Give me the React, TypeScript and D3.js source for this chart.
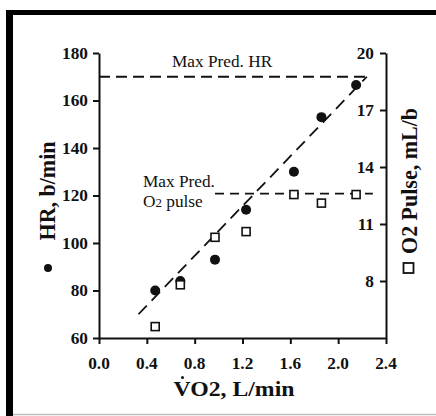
import React, { useEffect, useRef } from 'react';
import * as d3 from 'd3';

// values
const vo2 = [0.47, 0.68, 0.97, 1.23, 1.63, 1.86, 2.15];
const hr = [80, 84, 93, 114, 130, 153, 166.5];
const o2Pulse = [5.6, 7.8, 10.3, 10.6, 12.55, 12.1, 12.55];

const xTicks = [0, 0.4, 0.8, 1.2, 1.6, 2.0, 2.4];
const hrTicks = [60, 80, 100, 120, 140, 160, 180];
const o2Ticks = [8, 11, 14, 17, 20];

// dashed reference lines
const fitX = [0.33, 2.24];
const fitHR = [70, 170];
const maxPredHR = 170;
const maxPredHRX = [0, 2.24];
const maxPredO2 = 12.6;
const maxPredO2X = [0.97, 2.29];

const SERIF = '"Liberation Serif", "Times New Roman", serif';
const SX = 1.08; // picture is a bit wider than tall text

const App = () => {
  const svgRef = useRef<SVGSVGElement>(null);

  useEffect(() => {
    const svg = d3.select(svgRef.current);
    svg.selectAll('*').remove();

    const x = d3.scaleLinear().domain([0, 2.4]).range([99, 386]);
    const yHR = d3.scaleLinear().domain([60, 180]).range([338, 53]);
    const yO2 = d3.scaleLinear().domain([5, 20]).range([338, 53]);

    // frame
    svg.append('rect').attr('x', 6).attr('y', 10).attr('width', 7).attr('height', 406).attr('fill', '#000');
    svg.append('rect').attr('x', 6).attr('y', 10).attr('width', 430).attr('height', 5).attr('fill', '#000');
    svg.append('line').attr('x1', 13).attr('x2', 436).attr('y1', 414.5).attr('y2', 414.5)
      .attr('stroke', '#bdbdbd').attr('stroke-width', 1.5);

    const txt = (tx: number, ty: number, s: string, opts: any = {}) => {
      const t = svg.append('text')
        .attr('transform', `translate(${tx},${ty}) scale(${SX},1)${opts.rotate ? ` rotate(${opts.rotate})` : ''}`)
        .attr('font-family', SERIF)
        .attr('font-size', opts.size || 16)
        .attr('font-weight', opts.bold === false ? 'normal' : 'bold')
        .attr('text-anchor', opts.anchor || 'start')
        .attr('fill', '#111');
      t.text(s);
      return t;
    };

    // axes (lines and ticks from d3, labels placed by hand)
    const xAxis = svg.append('g').attr('transform', 'translate(0,338)')
      .call(d3.axisBottom(x).tickValues(xTicks).tickFormat(() => '').tickSize(6).tickSizeOuter(0));
    const yAxis = svg.append('g').attr('transform', 'translate(99,0)')
      .call(d3.axisLeft(yHR).tickValues(hrTicks).tickFormat(() => '').tickSize(6).tickSizeOuter(0));
    const y2Axis = svg.append('g').attr('transform', 'translate(386,0)')
      .call(d3.axisRight(yO2).tickValues(o2Ticks).tickFormat(() => '').tickSize(-6).tickSizeOuter(0));
    [xAxis, yAxis, y2Axis].forEach(a => {
      a.selectAll('path').attr('stroke', '#111').attr('stroke-width', 2);
      a.selectAll('line').attr('stroke', '#111').attr('stroke-width', 2);
    });

    xTicks.forEach(v => txt(x(v), 369, d3.format('.1f')(v), { anchor: 'middle' }));
    hrTicks.forEach(v => txt(88, yHR(v) + 5.5, String(v), { anchor: 'end' }));
    o2Ticks.forEach(v => txt(374, yO2(v) + 5.5, String(v), { anchor: 'end' }));

    // axis titles
    txt(55, 191, 'HR, b/min', { size: 22, anchor: 'middle', rotate: -90 });
    svg.append('circle').attr('cx', 48).attr('cy', 268).attr('r', 4).attr('fill', '#111');

    txt(417, 181, 'O2 Pulse, mL/b', { size: 22, anchor: 'middle', rotate: -90 });
    svg.append('rect').attr('x', 403.5).attr('y', 263).attr('width', 10).attr('height', 10)
      .attr('fill', '#fff').attr('stroke', '#111').attr('stroke-width', 1.8);

    txt(234, 396, 'VO2, L/min', { size: 22, anchor: 'middle' });
    svg.append('circle').attr('cx', 182.5).attr('cy', 377.5).attr('r', 1.5).attr('fill', '#111');

    // dashed lines
    const dash = '11,6';
    svg.append('line')
      .attr('x1', x(maxPredHRX[0])).attr('x2', x(maxPredHRX[1]))
      .attr('y1', yHR(maxPredHR)).attr('y2', yHR(maxPredHR))
      .attr('stroke', '#111').attr('stroke-width', 1.8).attr('stroke-dasharray', dash);
    svg.append('line')
      .attr('x1', x(maxPredO2X[0])).attr('x2', x(maxPredO2X[1]))
      .attr('y1', yO2(maxPredO2)).attr('y2', yO2(maxPredO2))
      .attr('stroke', '#111').attr('stroke-width', 1.8).attr('stroke-dasharray', '9,6');
    svg.append('line')
      .attr('x1', x(fitX[0])).attr('x2', x(fitX[1]))
      .attr('y1', yHR(fitHR[0])).attr('y2', yHR(fitHR[1]))
      .attr('stroke', '#111').attr('stroke-width', 1.8).attr('stroke-dasharray', '12,7');

    // annotations
    txt(172, 67, 'Max Pred. HR', { size: 16, bold: false });
    txt(143, 187, 'Max Pred.', { size: 16, bold: false });
    const o2lab = txt(143, 207, '', { size: 16, bold: false });
    o2lab.append('tspan').text('O');
    o2lab.append('tspan').attr('font-size', 12).text('2');
    o2lab.append('tspan').text(' pulse');

    // HR points
    svg.append('g').selectAll('circle').data(vo2).join('circle')
      .attr('cx', d => x(d)).attr('cy', (d, i) => yHR(hr[i])).attr('r', 5).attr('fill', '#111');

    // O2 pulse points
    svg.append('g').selectAll('rect').data(vo2).join('rect')
      .attr('x', d => x(d) - 4).attr('y', (d, i) => yO2(o2Pulse[i]) - 4)
      .attr('width', 8).attr('height', 8)
      .attr('fill', '#fff').attr('stroke', '#111').attr('stroke-width', 1.6);
  }, []);

  return (
    <svg ref={svgRef} width={436} height={416}
      style={{ position: 'absolute', left: 0, top: 0, background: '#fff' }} />
  );
};

export default App;
